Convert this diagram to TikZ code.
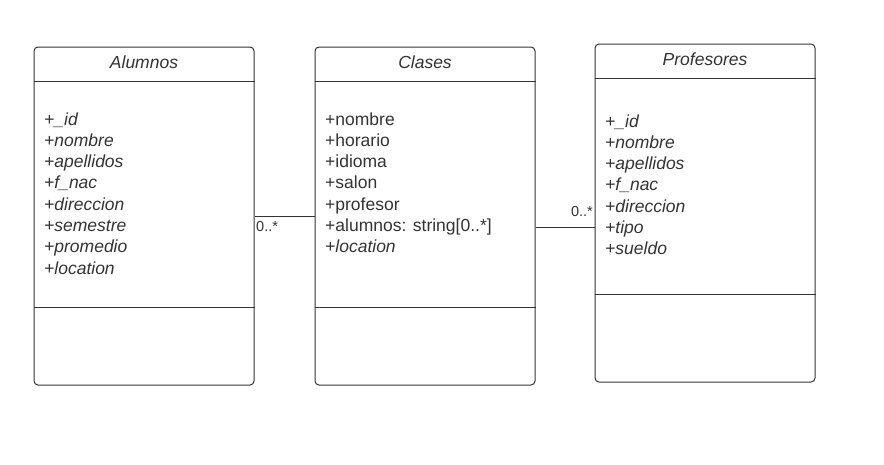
\documentclass[tikz,border=0pt]{standalone}
\usepackage{fontspec}
\setmainfont{Liberation Sans}
\usetikzlibrary{positioning}
\definecolor{umlline}{HTML}{333333}
\tikzset{
  classbox/.style={draw=umlline, line width=1pt, rounded corners=4pt,
    minimum width=220pt, minimum height=338pt, inner sep=0pt},
  classname/.style={font=\fontsize{17.5}{21}\selectfont\itshape, text=umlline, inner sep=0pt},
  attr/.style={font=\fontsize{17.5}{21}\selectfont, text=umlline, anchor=base west, inner sep=0pt},
  mult/.style={font=\fontsize{14.5}{16}\selectfont, text=umlline, inner sep=0pt},
  assoc/.style={draw=umlline, line width=1pt},
}
\begin{document}
\begin{tikzpicture}[x=1pt, y=-1pt]
  \useasboundingbox (0,0) rectangle (884,464);
  % Class boxes
  \node[classbox] (alumnos) at (144,216) {};
  \node[classbox] (clases) at (425,216) {};
  \node[classbox] (profesores) at (705,213) {};
  % Compartment lines
  \foreach \c/\low in {alumnos/261, clases/261, profesores/251} {
    \draw[umlline, line width=1pt] ([yshift=-35pt]\c.north west) -- ([yshift=-35pt]\c.north east);
    \draw[umlline, line width=1pt] ([yshift=-\low pt]\c.north west) -- ([yshift=-\low pt]\c.north east);
  }
  % Class names
  \node[classname] (alumnos-name) at ([yshift=-15.5pt]alumnos.north) {Alumnos};
  \node[classname] (clases-name) at ([yshift=-15.5pt]clases.north) {Clases};
  \node[classname] (profesores-name) at ([yshift=-15.5pt]profesores.north) {Profesores};
  % Attributes
  \foreach \a [count=\i from 0] in {+\_id, +nombre, +apellidos, +f\_nac,
      +direccion, +semestre, +promedio, +location}
    \node[attr, font=\fontsize{17.5}{21}\selectfont\itshape] (alumnos-a\i) at (44,125+21.3*\i) {\a};
  \foreach \a [count=\i from 0] in {+nombre, +horario, +idioma, +salon,
      +profesor, +alumnos: string[0..*], \textit{+location}}
    \node[attr] (clases-a\i) at (325,125+21.3*\i) {\a};
  \foreach \a [count=\i from 0] in {+\_id, +nombre, +apellidos, +f\_nac,
      +direccion, +tipo, +sueldo}
    \node[attr, font=\fontsize{17.5}{21}\selectfont\itshape] (profesores-a\i) at (605,127+21.3*\i) {\a};
  % Associations
  \draw[assoc] (alumnos.east) -- (clases.west);
  \coordinate (clases-r) at ([yshift=-11pt]clases.east);
  \draw[assoc] (clases-r) -- (clases-r -| profesores.west);
  \node[mult, anchor=north west] (m1) at ([xshift=1.5pt, yshift=-5pt]alumnos.east) {0..*};
  \node[mult, anchor=south east] (m2) at ([xshift=-1.5pt, yshift=10.5pt]clases-r -| profesores.west) {0..*};
\end{tikzpicture}
\end{document}
